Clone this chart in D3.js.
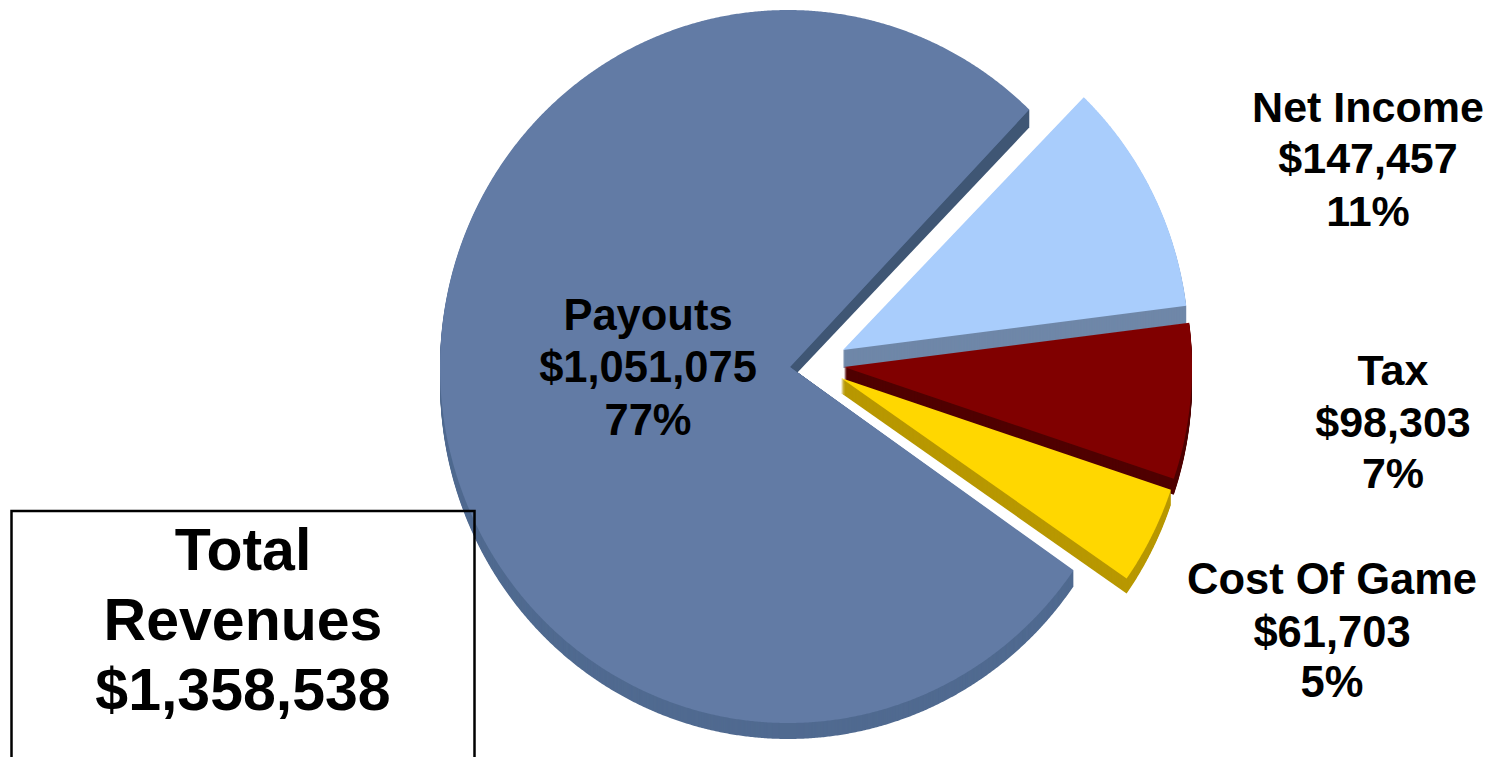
<!DOCTYPE html>
<html>
<head>
<meta charset="utf-8">
<title>Total Revenues</title>
<script src="https://cdn.jsdelivr.net/npm/d3@7"></script>
<style>
  html, body { margin: 0; padding: 0; background: #fff; overflow: hidden; }
  svg { display: block; }
  text { font-family: "Liberation Sans", Arial, sans-serif; font-weight: 700; fill: #000; text-anchor: middle; }
</style>
</head>
<body>
<svg id="chart" width="1490" height="757"></svg>
<script>
const categories = ["Net Income", "Tax", "Cost Of Game", "Payouts"];
const revenues = [147457, 98303, 61703, 1051075];
const totalLines = ["Total", "Revenues"];

const width = 1490;
const height = 757;
const rad = Math.PI / 180;

// the slices are pulled apart and none of them is quite round
const wedgeStyle = [
  { apex: [843, 350], centre: [843, 350], rx: 346, ry: 352, depth: 18, top: "#a9cdfc", side: "#6f87a8" },
  { apex: [844, 367], centre: [844, 367], rx: 348, ry: 350, depth: 16, top: "#800000", side: "#500000" },
  { apex: [841, 378], centre: [841, 378], rx: 348, ry: 351, depth: 15, top: "#ffd700", side: "#b89800" },
  { apex: [790, 367], centre: [788, 366.5], rx: 348, ry: 356.5, depth: 16, top: "#627ba5", side: "#506a90",
    edge: "#3f5674", edgeFoot: [797, 373], trim: [0.55, -0.7] }
];
const labelStyle = [
  { x: 1368, y: [122, 173, 226], size: 43 },
  { x: 1393, y: [385, 437, 488], size: 43 },
  { x: 1332, y: [594, 647, 697], size: 43.5 },
  { x: 648, y: [330, 382, 435], size: 43.5 }
];

const svg = d3.select("#chart").attr("viewBox", [0, 0, width, height]);

const total = d3.sum(revenues);
const money = d3.format("$,");
const percent = d3.format(".0%");

const pie = d3.pie()
  .sort(null)
  .startAngle(43.6 * rad)
  .endAngle((43.6 + 360) * rad);

const slices = pie(revenues);

// where a ray from the apex meets the rim of the wedge
function rimPoint(s, angle) {
  const dx = Math.sin(angle) / s.rx;
  const dy = -Math.cos(angle) / s.ry;
  const ox = (s.apex[0] - s.centre[0]) / s.rx;
  const oy = (s.apex[1] - s.centre[1]) / s.ry;
  const a = dx * dx + dy * dy;
  const b = 2 * (ox * dx + oy * dy);
  const c = ox * ox + oy * oy - 1;
  const t = (-b + Math.sqrt(b * b - 4 * a * c)) / (2 * a);
  return [s.apex[0] + t * Math.sin(angle), s.apex[1] - t * Math.cos(angle)];
}

function angles(d, s) {
  const trim = s.trim || [0, 0];
  return [d.startAngle + trim[0] * rad, d.endAngle + trim[1] * rad];
}

// drop moves the rim down; the tip only follows when the slice has its own side there
function wedge(d, s, drop = 0) {
  const [a0, a1] = angles(d, s);
  const steps = Math.ceil((a1 - a0) / (0.25 * rad));
  const rim = d3.range(steps + 1).map(i => {
    const p = rimPoint(s, a0 + (a1 - a0) * i / steps);
    return [p[0], p[1] + drop];
  });
  const tip = s.edge ? s.apex : [s.apex[0], s.apex[1] + drop];
  return d3.line()([tip, ...rim]) + "Z";
}

// drawn big slice first, the pulled out ones stack from the top down
const order = [3, 0, 1, 2];

const groups = svg.selectAll("g.slice")
  .data(order)
  .join("g")
  .attr("class", "slice");

groups.each(function (i) {
  const g = d3.select(this);
  const s = wedgeStyle[i];
  const d = slices[i];

  g.selectAll("path.side")
    .data(d3.range(s.depth, 0, -1))
    .join("path")
    .attr("class", "side")
    .attr("d", k => wedge(d, s, k))
    .attr("fill", s.side);

  if (s.edge) {
    // the cut face that shows along the upper edge of Payouts
    const end = rimPoint(s, angles(d, s)[1]);
    g.append("path")
      .attr("d", d3.line()([s.apex, end, [end[0], end[1] + s.depth + 2], s.edgeFoot]) + "Z")
      .attr("fill", s.edge);
  }

  g.append("path")
    .attr("class", "top")
    .attr("d", wedge(d, s))
    .attr("fill", s.top);
});

const labels = svg.selectAll("g.label")
  .data(categories)
  .join("g")
  .attr("class", "label")
  .attr("font-size", (d, i) => labelStyle[i].size);

labels.each(function (name, i) {
  const lines = [name, money(revenues[i]), percent(revenues[i] / total)];
  d3.select(this).selectAll("text")
    .data(lines)
    .join("text")
    .attr("x", labelStyle[i].x)
    .attr("y", (d, j) => labelStyle[i].y[j])
    .text(d => d);
});

// total box runs off the bottom of the page, and the pie shows through it
svg.append("rect")
  .attr("x", 11.5)
  .attr("y", 511)
  .attr("width", 463)
  .attr("height", 270)
  .attr("fill", "none")
  .attr("stroke", "#000")
  .attr("stroke-width", 2.5);

svg.append("g")
  .attr("font-size", 59)
  .selectAll("text")
  .data([...totalLines, money(total)])
  .join("text")
  .attr("x", 243)
  .attr("y", (d, i) => 570 + i * 70)
  .text(d => d);
</script>
</body>
</html>
